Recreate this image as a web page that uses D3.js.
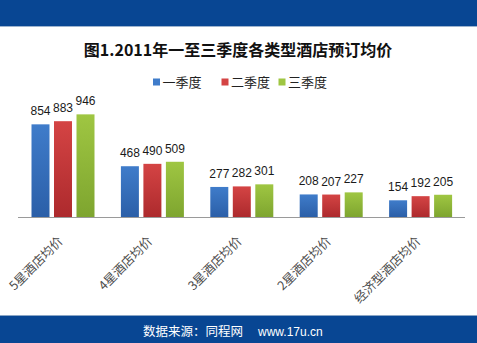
<!DOCTYPE html>
<html><head><meta charset="utf-8">
<script src="https://cdn.jsdelivr.net/npm/d3@7"></script>
<style>body{margin:0;background:#fff}svg{display:block}</style>
</head><body>
<script>
const categories = ["5星酒店均价","4星酒店均价","3星酒店均价","2星酒店均价","经济型酒店均价"];
const seriesNames = ["一季度","二季度","三季度"];
const q1 = [854,468,277,208,154];
const q2 = [883,490,282,207,192];
const q3 = [946,509,301,227,205];
const seriesValues = [q1,q2,q3];
const title = "图1.2011年一至三季度各类型酒店预订均价";
const footer1 = "数据来源：同程网", footer2 = "www.17u.cn";

const W=477,H=343;
const svg=d3.select("body").append("svg").attr("width",W).attr("height",H);
const defs=svg.append("defs");
const cols=[["#3f7cca","#2b5fa8"],["#d44444","#ad2a2d"],["#9fc642","#7ea52f"]];
cols.forEach((c,i)=>{const g=defs.append("linearGradient").attr("id","g"+i).attr("x1",0).attr("x2",0).attr("y1",0).attr("y2",1);
 g.append("stop").attr("offset","0%").attr("stop-color",c[0]);g.append("stop").attr("offset","100%").attr("stop-color",c[1]);});

// bands
svg.append("rect").attr("x",0).attr("y",0).attr("width",W).attr("height",26).attr("fill","#084693");
svg.append("rect").attr("x",0).attr("y",26).attr("width",W).attr("height",1).attr("fill","#9db4cf");
svg.append("rect").attr("x",0).attr("y",315).attr("width",W).attr("height",1).attr("fill","#8aa6c6");
svg.append("rect").attr("x",0).attr("y",316).attr("width",W).attr("height",27).attr("fill","#084693");

svg.append("text").attr("x",238).attr("y",56).attr("text-anchor","middle")
 .attr("font-family","'Noto Sans CJK SC',sans-serif").attr("font-weight","bold").attr("font-size",16).attr("fill","#111").text(title);

const x0=d3.scaleBand().domain(categories).range([18,465]);
const x1=d3.scaleBand().domain([0,1,2]).range([13.5,76.5]).paddingInner(0.2);
const y=d3.scaleLinear().domain([0,1000]).range([217,108.5]);

const g=svg.append("g");
categories.forEach((c,ci)=>{
 seriesValues.forEach((s,si)=>{
  const bx=x0(c)+x1(si), by=y(s[ci]);
  g.append("rect").attr("x",bx).attr("y",by).attr("width",x1.bandwidth()).attr("height",y(0)-by).attr("fill","url(#g"+si+")");
  g.append("text").attr("x",bx+x1.bandwidth()/2).attr("y",by-9).attr("text-anchor","middle")
   .attr("font-family","'Liberation Sans',Arial,sans-serif").attr("font-size",12).attr("fill","#1a1a1a").text(s[ci]);
 });
});
svg.append("line").attr("x1",18).attr("x2",465).attr("y1",217.5).attr("y2",217.5).attr("stroke","#9a9a9a").attr("stroke-width",1);

// category labels
categories.forEach(c=>{
 const cx=x0(c)+x0.bandwidth()/2;
 svg.append("text").attr("transform",`translate(${cx+1},${242}) rotate(-45)`).attr("text-anchor","end")
  .attr("font-family","'Noto Sans CJK SC',sans-serif").attr("font-size",12.5).attr("fill","#4a4a4a").text(c);
});

// legend
const lx=[153,221.5,278.5];
seriesNames.forEach((n,i)=>{
 svg.append("rect").attr("x",lx[i]).attr("y",78.5).attr("width",7).attr("height",7).attr("fill",cols[i][0]);
 svg.append("text").attr("x",lx[i]+9.5).attr("y",87).attr("font-family","'Noto Sans CJK SC',sans-serif").attr("font-size",13).attr("fill","#222").text(n);
});

svg.append("text").attr("x",143).attr("y",336).attr("font-family","'Noto Sans CJK SC',sans-serif").attr("font-size",12.5).attr("fill","#fff").text(footer1);
svg.append("text").attr("x",258).attr("y",336).attr("font-family","'Liberation Sans',Arial,sans-serif").attr("font-size",12).attr("fill","#fff").text(footer2);
</script>
</body></html>
